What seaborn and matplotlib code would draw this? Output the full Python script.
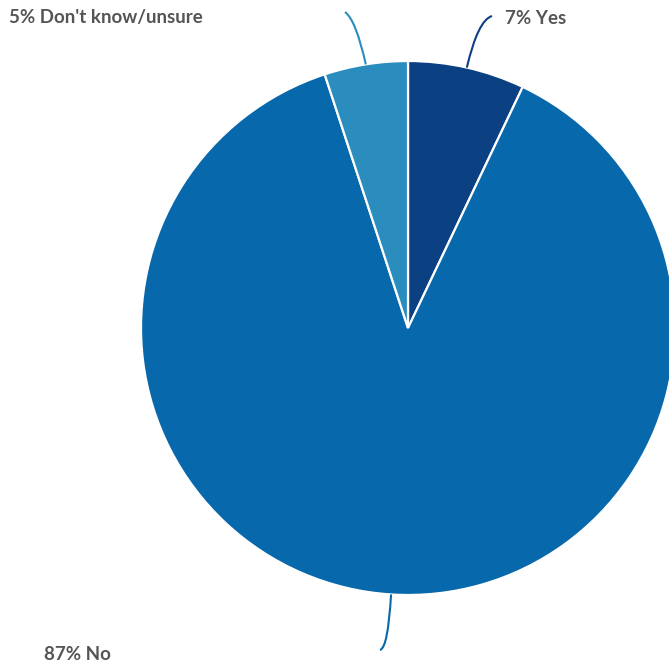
import matplotlib
matplotlib.use("Agg")
import matplotlib.pyplot as plt
from matplotlib.path import Path
from matplotlib.patches import PathPatch
import numpy as np
import seaborn as sns

# Survey answers
categories = ["Yes", "No", "Don't know/unsure"]
shares = [7, 87, 5]
colors = ["#0b4083", "#0868ac", "#2b8cbe"]

sns.set_theme(style="white")
plt.rcParams["font.family"] = ["Lato", "DejaVu Sans"]

W, H = 669, 664
fig = plt.figure(figsize=(W / 100, H / 100), dpi=100)
ax = fig.add_axes([0, 0, 1, 1])
ax.set_xlim(0, W)
ax.set_ylim(0, H)
ax.set_aspect("equal")
ax.axis("off")

cx, cy, r = 408, H - 328, 267
wedges, _ = ax.pie(shares, colors=colors, startangle=90, counterclock=False,
                   center=(cx, cy), radius=r,
                   wedgeprops=dict(edgecolor="white", linewidth=1.6))
ax.set_xlim(0, W)
ax.set_ylim(0, H)

# label anchor (end of leader line), control point and text position, in pixels from top-left
leaders = {
    "Yes": dict(end=(492, 16), ctrl=(478, 20), text=(505, 19)),
    "No": dict(end=(380, 650), ctrl=(388, 648), text=(44, 655)),
    "Don't know/unsure": dict(end=(345, 12), ctrl=(356, 20), text=(9, 18)),
}

for w, cat, val, col in zip(wedges, categories, shares, colors):
    mid = np.deg2rad((w.theta1 + w.theta2) / 2)
    sx, sy = cx + r * np.cos(mid), cy + r * np.sin(mid)
    spec = leaders[cat]
    ex, ey = spec["end"][0], H - spec["end"][1]
    qx, qy = spec["ctrl"][0], H - spec["ctrl"][1]
    path = Path([(sx, sy), (qx, qy), (ex, ey)],
                [Path.MOVETO, Path.CURVE3, Path.CURVE3])
    ax.add_patch(PathPatch(path, facecolor="none", edgecolor=col, lw=1.5))
    tx, ty = spec["text"]
    ax.text(tx, H - ty, f"{val}% {cat}", ha="left", va="center",
            fontsize=13.5, fontweight="bold", color="#555555")

fig.savefig("out.png", dpi=100)
